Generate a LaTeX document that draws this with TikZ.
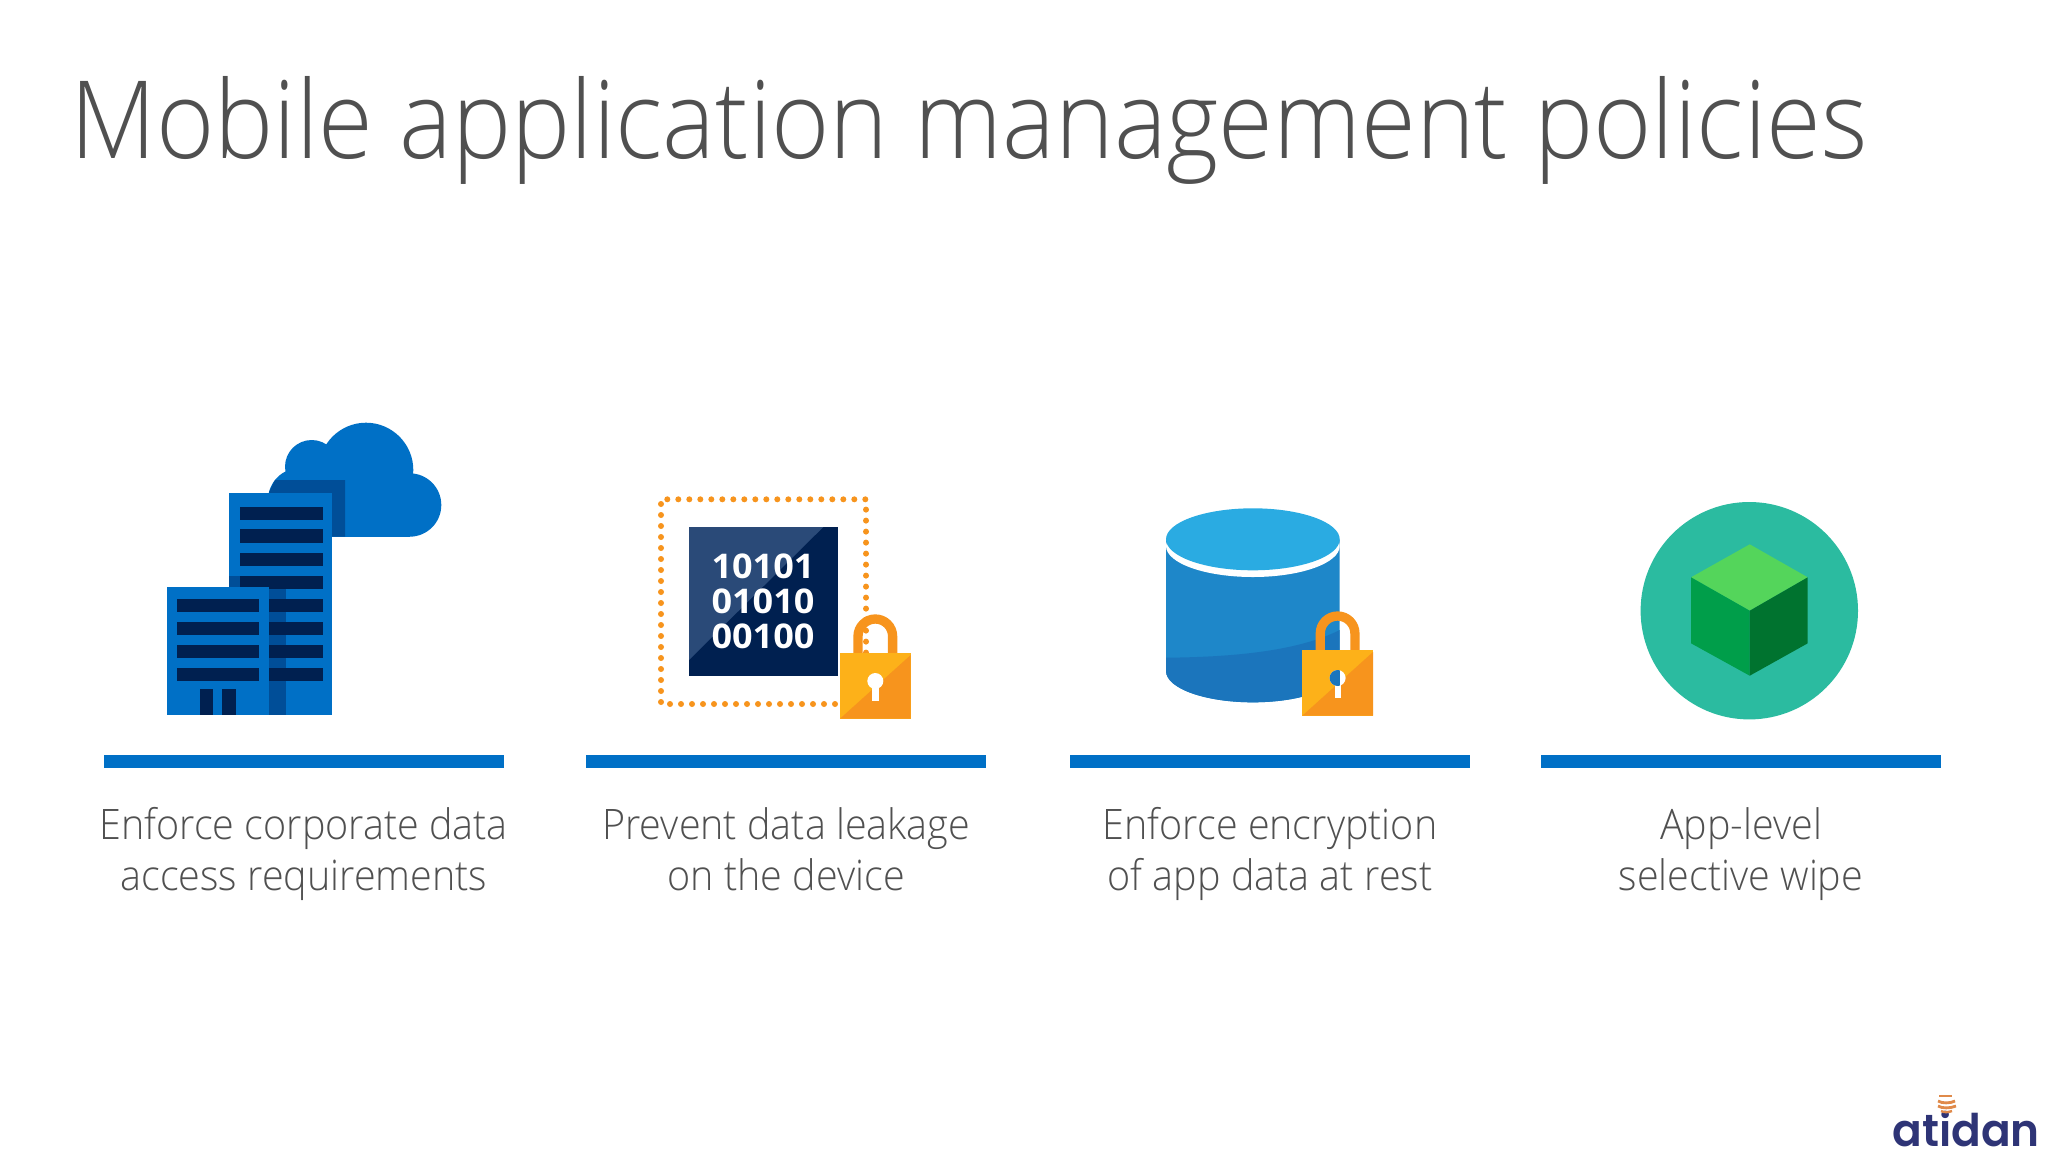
\documentclass[tikz,border=0pt]{standalone}
\usepackage{fontspec}
\setmainfont{Open Sans Light}
\newfontfamily\titlefont{Open Sans Light}[FakeStretch=0.922]
\newfontfamily\capfont{Open Sans Light}[FakeStretch=0.94]
\newfontfamily\boldsans{Open Sans}[UprightFont=* Bold,FakeStretch=1.06]
\newfontfamily\logofont{Poppins}[UprightFont=* SemiBold,FakeStretch=0.974]
\definecolor{txtgray}{HTML}{505050}
\definecolor{barblue}{HTML}{0070C6}
\definecolor{deepblue}{HTML}{004E98}
\definecolor{navy}{HTML}{002050}
\definecolor{navylight}{HTML}{2A4A78}
\definecolor{lockdark}{HTML}{F7941D}
\definecolor{locklight}{HTML}{FDB119}
\definecolor{cyltop}{HTML}{2AABE2}
\definecolor{cylmid}{HTML}{1E87C9}
\definecolor{cyllow}{HTML}{1B75BC}
\definecolor{teal}{HTML}{2BBBA0}
\definecolor{cubetop}{HTML}{54D55B}
\definecolor{cubeleft}{HTML}{009E4A}
\definecolor{cuberight}{HTML}{00732F}
\definecolor{logoblue}{HTML}{2E3476}
\definecolor{logoorange}{HTML}{E08A4A}
\tikzset{
  caption/.style={text=txtgray,font=\capfont\fontsize{21}{26}\selectfont,anchor=base,inner sep=0pt},
  bar/.style={fill=barblue},
  digits/.style={text=white,font=\boldsans\fontsize{17}{17.5}\selectfont,align=center,inner sep=0pt},
}
\newcommand{\lockicon}[2]{%
  \begin{scope}[shift={(#1,#2)}]
    \draw[lockdark,line width=4.65pt] (858,653) -- (858,636.3) arc[start angle=180,end angle=360,radius=17.3] -- (892.6,653);
    \fill[locklight] (840,653) rectangle (910.7,718.7);
    \fill[lockdark] (910.7,655) -- (910.7,718.7) -- (840,718.7) -- cycle;
    \fill[white] (875.3,681) circle[radius=8];
    \fill[white] (872.3,681) rectangle (878.7,701.3);
  \end{scope}}
\begin{document}
\begin{tikzpicture}[x=0.5pt,y=-0.5pt]
\path[use as bounding box,fill=white] (0,0) rectangle (2048,1152);
% title
\node[anchor=base west,inner sep=0pt,text=txtgray,font=\titlefont\fontsize{54}{60}\selectfont] (title) at (70,158.5) {Mobile application management policies};
% cloud
\fill[barblue] (409.6,505) circle[radius=31.7];
\fill[barblue] (366,470) circle[radius=47.3];
\fill[barblue] (311.7,466.7) circle[radius=26.7];
\fill[barblue] (300,500) circle[radius=32];
\fill[barblue] (300,480) rectangle (409.6,536.7);
\fill[deepblue] (345,480) -- (275,480) -- (270,490) -- (268.5,495) -- (300,536.7) -- (345,536.7) -- cycle;
% tower
\fill[barblue] (229.3,492.7) rectangle (332.3,715);
\foreach \yy in {506.7,529.3,552.7,576,598.7,622,645,668}
  \fill[navy] (240,\yy) rectangle (322.7,\yy+13.4);
\fill[deepblue] (229.3,576) rectangle (240,587);
\fill[deepblue] (269,589.3) rectangle (285.7,715);
\foreach \yy in {598.7,622,645,668}
  \fill[navy] (269,\yy) rectangle (322.7,\yy+13.4);
% low building
\fill[barblue] (166.7,587) rectangle (269,715);
\foreach \yy in {598.7,622,645,668}
  \fill[navy] (176.7,\yy) rectangle (259,\yy+13.4);
\fill[navy] (200,689) rectangle (213.3,715);
\fill[navy] (222.3,689) rectangle (236,715);
% data block
\draw[lockdark,line width=3pt,line cap=round,dash pattern=on 0pt off 5.5pt] (846,704) -- (661,704) -- (661,499.3) -- (866,499.3) -- (866,660);
\fill[navy] (689,527) rectangle (838,676);
\fill[navylight] (689,527) -- (823.3,527) -- (689,660) -- cycle;
\node[digits] (bits) at (763,601.7) {10101\\01010\\00100};
\lockicon{0}{0}
% cylinder
\fill[cylmid] (1166,539.3) -- (1166,671) arc[start angle=180,end angle=0,x radius=86.85,y radius=31.3] -- (1339.7,539.3) -- cycle;
\fill[cyllow] (1166,657.7) .. controls (1240,657) and (1300,650) .. (1339.7,630) -- (1339.7,671) arc[start angle=0,end angle=180,x radius=86.85,y radius=31.3] -- cycle;
\fill[white] (1252.85,546) ellipse[x radius=86.85,y radius=31];
\fill[cyltop] (1252.85,539.3) ellipse[x radius=86.85,y radius=31];
\lockicon{462.3}{-3}
\begin{scope}
  \clip (1337.6,678) circle[radius=8];
  \fill[cyllow] (1325,665) rectangle (1339.7,690);
\end{scope}
% cube
\fill[teal] (1749.3,610.7) circle[radius=108.7];
\fill[cubetop] (1749.7,544.3) -- (1807.7,577.3) -- (1749.7,610.7) -- (1691,577.3) -- cycle;
\fill[cubeleft] (1691,577.3) -- (1749.7,610.7) -- (1749.7,675.7) -- (1691,643.3) -- cycle;
\fill[cuberight] (1807.7,577.3) -- (1749.7,610.7) -- (1749.7,675.7) -- (1807.7,643.3) -- cycle;
% bars
\fill[bar] (104,755) rectangle (503.7,767.7);
\fill[bar] (586.3,755) rectangle (986,767.7);
\fill[bar] (1070,755) rectangle (1469.7,767.7);
\fill[bar] (1541.3,755) rectangle (1940.7,767.7);
% captions
\node[caption] (c1a) at (303.7,839) {Enforce corporate data};
\node[caption] (c1b) at (303.7,890) {access requirements};
\node[caption] (c2a) at (786.2,839) {Prevent data leakage};
\node[caption] (c2b) at (786.2,890) {on the device};
\node[caption] (c3a) at (1270,839) {Enforce encryption};
\node[caption] (c3b) at (1270,890) {of app data at rest};
\node[caption] (c4a) at (1741,839) {App-level};
\node[caption] (c4b) at (1741,890) {selective wipe};
% logo
\node[anchor=base west,inner sep=0pt,text depth=0pt,text=logoblue,font=\logofont\fontsize{22.5}{24}\selectfont] (logo) at (1892,1146) {atidan};
\draw[logoorange,line width=1.2pt] (1939,1096) -- (1952,1096);
\draw[logoorange,line width=1.4pt] (1938,1101) .. controls (1942,1103.5) and (1950,1103.5) .. (1955,1101);
\draw[logoorange,line width=1.4pt] (1938,1106) .. controls (1942,1108.5) and (1950,1108.5) .. (1956,1106);
\draw[logoorange,line width=1.2pt] (1941,1111) .. controls (1944,1112.5) and (1948,1112.5) .. (1952,1111);
\end{tikzpicture}
\end{document}
